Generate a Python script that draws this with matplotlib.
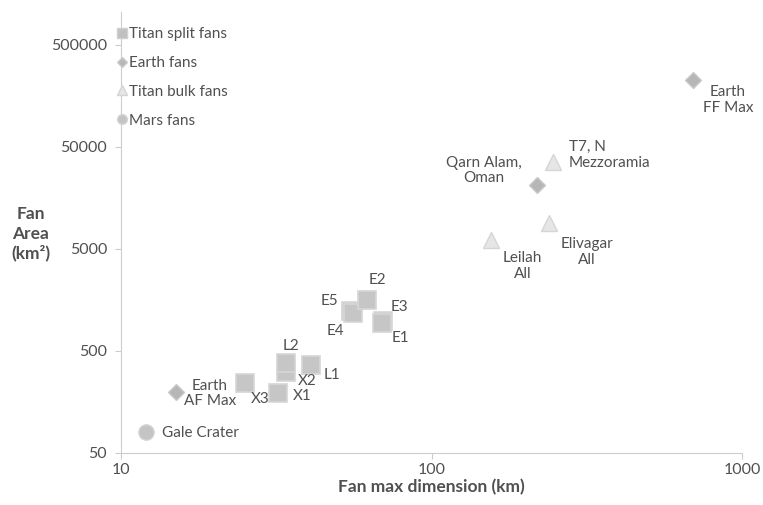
import matplotlib
matplotlib.use("Agg")
import matplotlib.pyplot as plt
from matplotlib.lines import Line2D
from matplotlib.ticker import FixedLocator, FixedFormatter, NullLocator

plt.rcParams['font.family'] = ['Lato', 'DejaVu Sans']

# fan max dimension (km) and fan area (km^2)
split_names = ['X3', 'X1', 'X2', 'L2', 'L1', 'E5', 'E4', 'E2', 'E3', 'E1']
split_dim = [25, 32, 34, 34, 41, 55, 56, 62, 70, 69.5]
split_area = [240, 195, 310, 380, 365, 1230, 1180, 1580, 980, 950]

earth_names = ['Earth\nAF Max', 'Qarn Alam,\nOman', 'Earth\nFF Max']
earth_dim = [15, 219, 695]
earth_area = [200, 21000, 227000]

bulk_names = ['Leilah\nAll', 'Elivagar\nAll', 'T7, N\nMezzoramia']
bulk_dim = [156, 239, 246]
bulk_area = [6100, 9000, 35600]

mars_names = ['Gale Crater']
mars_dim = [12]
mars_area = [80]

y_ticks = [50, 500, 5000, 50000, 500000]

# label offsets in pixels (dx, dy, ha)
split_off = [(16, -16, 'center'), (24, -3, 'center'), (21, -9, 'center'),
             (5, 17, 'center'), (21, -10, 'center'), (-21, 10, 'center'),
             (-18, -18, 'center'), (10, 20, 'center'), (16, 14, 'center'),
             (18, -15, 'center')]
earth_off = [(34, -2, 'center'), (-53, 15, 'center'), (35, -20, 'center')]
bulk_off = [(31, -26, 'center'), (38, -29, 'center'), (16, 7, 'left')]
mars_off = [(16, -1, 'left')]

txt_color = '#505050'

fig = plt.figure(figsize=(7.63, 5.05), dpi=100)
ax = fig.add_axes([0.1586, 0.103, 0.8139, 0.873])

ax.plot(split_dim, split_area, 's', ms=13, mfc='#c6c6c6', mec='#d6d6d6', mew=1.2, ls='none')
ax.plot(earth_dim, earth_area, 'D', ms=8, mfc='#b6b6b6', mec='#cacaca', mew=1.0, ls='none')
ax.plot(bulk_dim, bulk_area, '^', ms=12, mfc='#e6e6e6', mec='#d6d6d6', mew=1.0, ls='none')
ax.plot(mars_dim, mars_area, 'o', ms=11, mfc='#c4c4c4', mec='#d4d4d4', mew=1.0, ls='none')

def label_points(names, xs, ys, offs):
    for name, x, y, (dx, dy, ha) in zip(names, xs, ys, offs):
        ax.annotate(name, (x, y), xytext=(dx, dy), textcoords='offset pixels',
                    ha=ha, va='center', multialignment=ha, fontsize=11,
                    color=txt_color, linespacing=1.15)

label_points(split_names, split_dim, split_area, split_off)
label_points(earth_names, earth_dim, earth_area, earth_off)
label_points(bulk_names, bulk_dim, bulk_area, bulk_off)
label_points(mars_names, mars_dim, mars_area, mars_off)

ax.set_xscale('log')
ax.set_yscale('log')
ax.set_xlim(10, 1000)
ax.set_ylim(50, 1.05e6)

ax.xaxis.set_major_locator(FixedLocator([10, 100, 1000]))
ax.xaxis.set_major_formatter(FixedFormatter(['10', '100', '1000']))
ax.yaxis.set_major_locator(FixedLocator(y_ticks))
ax.yaxis.set_major_formatter(FixedFormatter([str(v) for v in y_ticks]))
ax.xaxis.set_minor_locator(NullLocator())
ax.yaxis.set_minor_locator(NullLocator())

for s in ['top', 'right']:
    ax.spines[s].set_visible(False)
for s in ['left', 'bottom']:
    ax.spines[s].set_color('#cccccc')
    ax.spines[s].set_linewidth(0.8)
ax.tick_params(axis='both', colors='#cccccc', labelcolor=txt_color, labelsize=11.5, length=4, width=0.8)
ax.tick_params(axis='y', pad=6)

ax.set_xlabel('Fan max dimension (km)', fontsize=12.5, fontweight='bold', color=txt_color, labelpad=1)
fig.text(0.04, 1 - 234 / 505, 'Fan\nArea\n(km²)', ha='center', va='center', fontsize=12.5,
         fontweight='bold', color=txt_color, linespacing=1.25)

handles = [
    Line2D([], [], marker='s', ls='none', ms=7, mfc='#c0c0c0', mec='#d0d0d0', label='Titan split fans'),
    Line2D([], [], marker='D', ls='none', ms=5, mfc='#b8b8b8', mec='#cccccc', label='Earth fans'),
    Line2D([], [], marker='^', ls='none', ms=7, mfc='#e6e6e6', mec='#d4d4d4', label='Titan bulk fans'),
    Line2D([], [], marker='o', ls='none', ms=7, mfc='#c4c4c4', mec='#d4d4d4', label='Mars fans'),
]
leg = ax.legend(handles=handles, loc='upper left', bbox_to_anchor=(-0.015, 0.98), frameon=False,
                fontsize=11, handlelength=0.6, handletextpad=0.15, labelspacing=0.97, borderaxespad=0)
for t in leg.get_texts():
    t.set_color(txt_color)

fig.savefig('out.png', dpi=100, facecolor='white')
